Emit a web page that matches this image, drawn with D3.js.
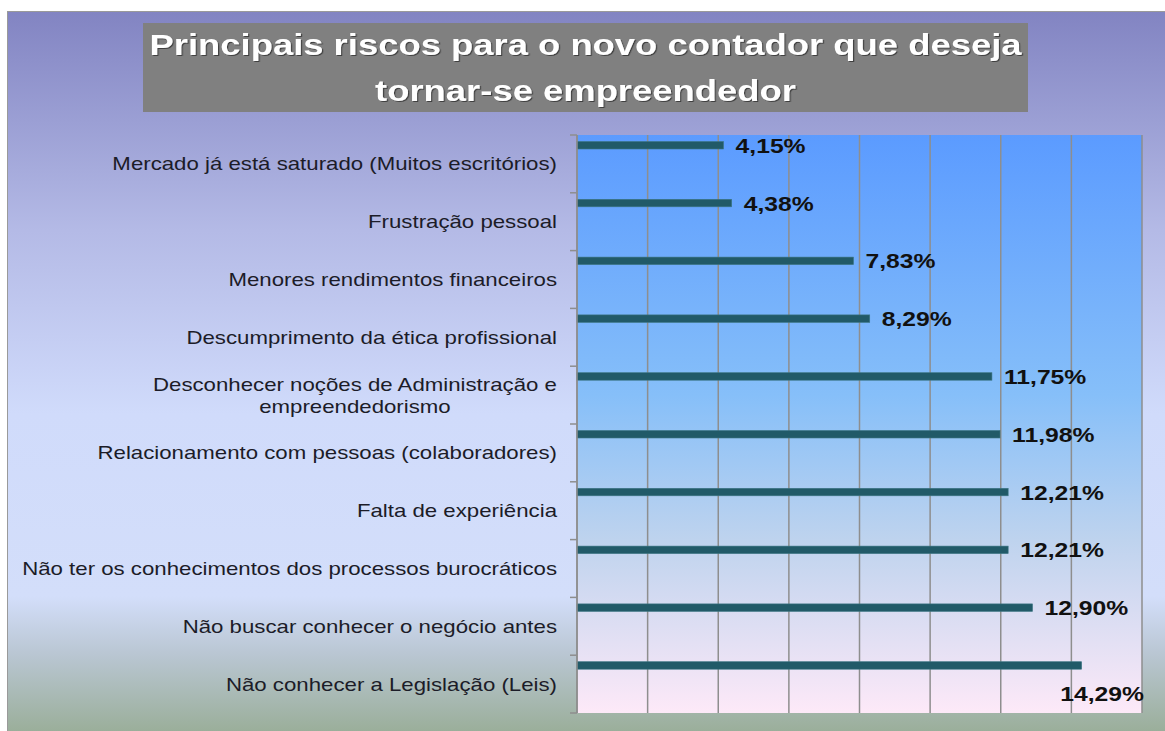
<!DOCTYPE html>
<html>
<head>
<meta charset="utf-8">
<script src="https://cdn.jsdelivr.net/npm/d3@7"></script>
<style>
  html, body { margin: 0; padding: 0; background: #ffffff; }
  svg { display: block; }
  text { font-family: Arial, "Liberation Sans", sans-serif; }
</style>
</head>
<body>
<script>
// ---- data ----
const titleLines = ["Principais riscos para o novo contador que deseja", "tornar-se empreendedor"];
const categories = [
  "Mercado já está saturado (Muitos escritórios)",
  "Frustração pessoal",
  "Menores rendimentos financeiros",
  "Descumprimento da ética profissional",
  "Desconhecer noções de Administração e|empreendedorismo",
  "Relacionamento com pessoas (colaboradores)",
  "Falta de experiência",
  "Não ter os conhecimentos dos processos burocráticos",
  "Não buscar conhecer o negócio antes",
  "Não conhecer a Legislação (Leis)"
];
const values = [4.15, 4.38, 7.83, 8.29, 11.75, 11.98, 12.21, 12.21, 12.90, 14.29];
const xTicks = [0, 2, 4, 6, 8, 10, 12, 14, 16];

// ---- layout ----
const W = 1165, H = 731;
const SX = 1.235; // horizontal stretch of the original picture's text
const plot = { left: 577, right: 1142, top: 135, bottom: 713 };

const svg = d3.select("body").append("svg").attr("width", W).attr("height", H);
const defs = svg.append("defs");

const g1 = defs.append("linearGradient").attr("id", "outerBg").attr("x1", 0).attr("y1", 0).attr("x2", 0).attr("y2", 1);
[["0%", "#8284c2"], ["30%", "#b4bae6"], ["55%", "#d0dbfb"], ["80%", "#d3defa"], ["88%", "#b9c6d2"], ["100%", "#96ab92"]]
  .forEach(([o, c]) => g1.append("stop").attr("offset", o).attr("stop-color", c));

const g2 = defs.append("linearGradient").attr("id", "plotBg").attr("x1", 0).attr("y1", 0).attr("x2", 0).attr("y2", 1);
[["0%", "#5b9bff"], ["45%", "#86bff9"], ["70%", "#bed3ee"], ["100%", "#fde9f8"]]
  .forEach(([o, c]) => g2.append("stop").attr("offset", o).attr("stop-color", c));

const sh = defs.append("filter").attr("id", "shadow").attr("x", "-5%").attr("y", "-20%").attr("width", "110%").attr("height", "140%");
sh.append("feDropShadow").attr("dx", 1).attr("dy", 1).attr("stdDeviation", 0.6).attr("flood-color", "#303030").attr("flood-opacity", 0.8);

// outer chart area
svg.append("rect").attr("x", 7.5).attr("y", 11.5).attr("width", W).attr("height", H)
  .attr("fill", "url(#outerBg)").attr("stroke", "#9a9a9a").attr("stroke-width", 1);

// title
svg.append("rect").attr("x", 143).attr("y", 23).attr("width", 885).attr("height", 89).attr("fill", "#808080");
const titleY = [55, 101];
titleLines.forEach((t, i) => {
  svg.append("text")
    .attr("transform", `translate(585.5,${titleY[i]}) scale(${SX},1)`)
    .attr("text-anchor", "middle")
    .attr("font-size", 29.5).attr("font-weight", "bold")
    .attr("fill", "#ffffff").attr("filter", "url(#shadow)")
    .text(t);
});

// scales
const x = d3.scaleLinear().domain([0, 16]).range([plot.left, plot.right]);
const y = d3.scaleBand().domain(categories).range([plot.top, plot.bottom]).padding(0);

// plot background
svg.append("rect").attr("x", plot.left).attr("y", plot.top)
  .attr("width", plot.right - plot.left).attr("height", plot.bottom - plot.top)
  .attr("fill", "url(#plotBg)");

// gridlines
svg.append("g").selectAll("line").data(xTicks).join("line")
  .attr("x1", d => x(d)).attr("x2", d => x(d))
  .attr("y1", plot.top).attr("y2", plot.bottom)
  .attr("stroke", "#8e8e8e").attr("stroke-width", 1.5);

// category tick marks (between categories)
const edges = categories.map(c => y(c)).concat([plot.bottom]);
svg.append("g").selectAll("line").data(edges).join("line")
  .attr("x1", plot.left - 7).attr("x2", plot.left)
  .attr("y1", d => d).attr("y2", d => d)
  .attr("stroke", "#8e8e8e").attr("stroke-width", 1.5);

// bars
const barOff = 6.5, barH = 7.5;
svg.append("g").selectAll("rect").data(values).join("rect")
  .attr("x", plot.left)
  .attr("y", (d, i) => y(categories[i]) + barOff)
  .attr("width", d => x(d) - x(0))
  .attr("height", barH)
  .attr("fill", "#215a68")
  .attr("stroke", "#3d7684").attr("stroke-width", 0.6);

// value labels
const fmt = v => d3.format(".2f")(v).replace(".", ",") + "%";
const vl = svg.append("g");
values.forEach((v, i) => {
  const cy = y(categories[i]) + barOff + barH / 2;
  const t = vl.append("text")
    .attr("font-size", 20).attr("font-weight", "bold").attr("fill", "#111")
    .attr("letter-spacing", 0)
    .text(fmt(v));
  const w = t.node().getComputedTextLength() * SX;
  let tx = x(v) + 12, ty = cy + 7.5;
  if (tx + w > plot.right) { tx = plot.right + 2 - w; ty = cy + 36; }
  t.attr("transform", `translate(${tx},${ty}) scale(${SX},1)`);
});

// category labels
const cl = svg.append("g");
const labelRight = 557;
categories.forEach(c => {
  const lines = c.split("|");
  const cy = y(c) + y.bandwidth() / 2;
  if (lines.length === 1) {
    cl.append("text")
      .attr("transform", `translate(${labelRight},${cy + 6.5}) scale(${SX},1)`)
      .attr("text-anchor", "end").attr("font-size", 18).attr("fill", "#1c1c28")
      .text(lines[0]);
  } else {
    const tmp = cl.append("text").attr("font-size", 18).text(lines[0]);
    const w = tmp.node().getComputedTextLength() * SX;
    tmp.remove();
    const cx = labelRight - w / 2;
    const lh = 22;
    lines.forEach((ln, k) => {
      cl.append("text")
        .attr("transform", `translate(${cx},${cy + 6.5 + (k - (lines.length - 1) / 2) * lh}) scale(${SX},1)`)
        .attr("text-anchor", "middle").attr("font-size", 18).attr("fill", "#1c1c28")
        .text(ln);
    });
  }
});

// left axis line
svg.append("line").attr("x1", plot.left).attr("x2", plot.left).attr("y1", plot.top).attr("y2", plot.bottom)
  .attr("stroke", "#8e8e8e").attr("stroke-width", 1.5);
</script>
</body>
</html>
